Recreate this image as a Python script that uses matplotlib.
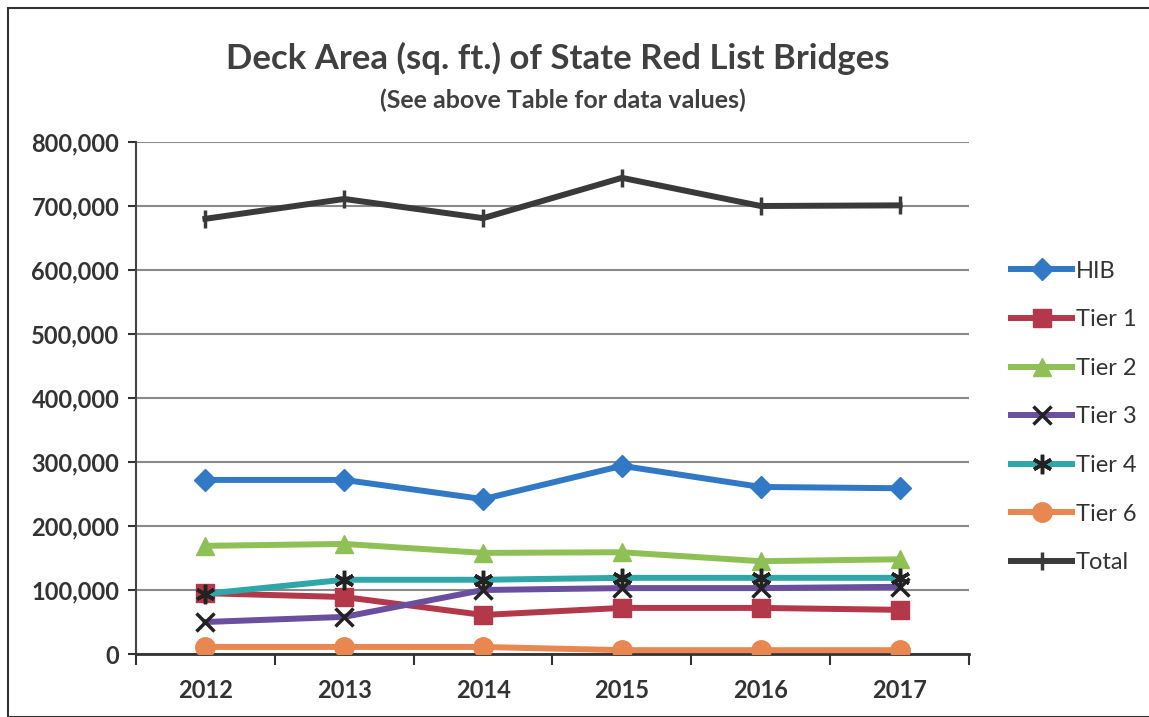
import matplotlib.pyplot as plt
from matplotlib.patches import Rectangle
from matplotlib.ticker import FuncFormatter
import numpy as np

##### Data #####
years = ['2012', '2013', '2014', '2015', '2016', '2017']
hib   = [272000, 272000, 242000, 294000, 261000, 259000]
tier1 = [95000, 89000, 61000, 72000, 72000, 69000]
tier2 = [169000, 172000, 158000, 159000, 145000, 148000]
tier3 = [50000, 58000, 100000, 103000, 103000, 105000]
tier4 = [94000, 116000, 116000, 119000, 119000, 119000]
tier6 = [11000, 11000, 11000, 6000, 6000, 6000]
total = [680000, 711000, 681000, 744000, 700000, 701000]

series = [
  ('HIB',    hib,   '#3179c4', 'D', 11, None),
  ('Tier 1', tier1, '#b2384a', 's', 13, None),
  ('Tier 2', tier2, '#8fc055', '^', 13, None),
  ('Tier 3', tier3, '#6a4f9e', 'x', 13, '#222222'),
  ('Tier 4', tier4, '#2fa6a8', (6, 2, 0), 14, '#222222'),
  ('Tier 6', tier6, '#e8874f', 'o', 14, None),
  ('Total',  total, '#3a3a3a', '|', 13, None),
]

plt.rcParams['font.family'] = ['Lato', 'DejaVu Sans']

fig = plt.figure(figsize=(11.49, 7.17), dpi=100)
ax = fig.add_axes([136/1149, 1-654/717, (969-136)/1149, (654-142)/717])

x = np.arange(len(years))
for name, vals, color, marker, ms, mec in series:
  ax.plot(x, vals, color=color, lw=4.3, marker=marker, markersize=ms,
          markerfacecolor=color, markeredgecolor=mec if mec else color,
          markeredgewidth=2.5 if mec or marker == '|' else 1, label=name, zorder=3)

ax.set_xlim(-0.5, len(years) - 0.5)
ax.set_ylim(0, 800000)
ax.set_yticks(np.arange(0, 800001, 100000))
ax.yaxis.set_major_formatter(FuncFormatter(lambda v, p: f'{int(v):,}'))
ax.grid(axis='y', color='#8a8a8a', lw=1.5, zorder=0)

ax.set_xticks(np.arange(-0.5, len(years), 1))
ax.set_xticklabels([])
ax.set_xticks(x, minor=True)
ax.set_xticklabels(years, minor=True)
ax.tick_params(axis='x', which='major', direction='out', length=8, width=1.5, color='#333333')
ax.tick_params(axis='x', which='minor', length=0, pad=18, labelsize=17)
ax.tick_params(axis='y', direction='out', length=6, width=1.5, color='#333333', labelsize=17, pad=6)
for lbl in ax.get_xticklabels(minor=True) + ax.get_yticklabels():
  lbl.set_fontweight('bold')
  lbl.set_color('#333333')

for s in ['top', 'right']:
  ax.spines[s].set_visible(False)
ax.spines['left'].set_color('#444444')
ax.spines['bottom'].set_color('#333333')
ax.spines['left'].set_linewidth(1.5)
ax.spines['bottom'].set_linewidth(2)

leg = ax.legend(loc='center left', bbox_to_anchor=(1.025, 0.463), frameon=False,
                fontsize=17, labelspacing=1.17, handlelength=2.6, handletextpad=0.15,
                labelcolor='#333333')

fig.text(0.485, 0.918, 'Deck Area (sq. ft.) of State Red List Bridges', ha='center', va='center',
         fontsize=25, fontweight='bold', color='#404040')
fig.text(0.49, 0.86, '(See above Table for data values)', ha='center', va='center',
         fontsize=18, fontweight='bold', color='#404040')

fig.patches.append(Rectangle((8/1149, 0), 1, 1-8/717, transform=fig.transFigure,
                             fill=False, edgecolor='#333333', lw=1.5))

fig.savefig('out.png', dpi=100)
